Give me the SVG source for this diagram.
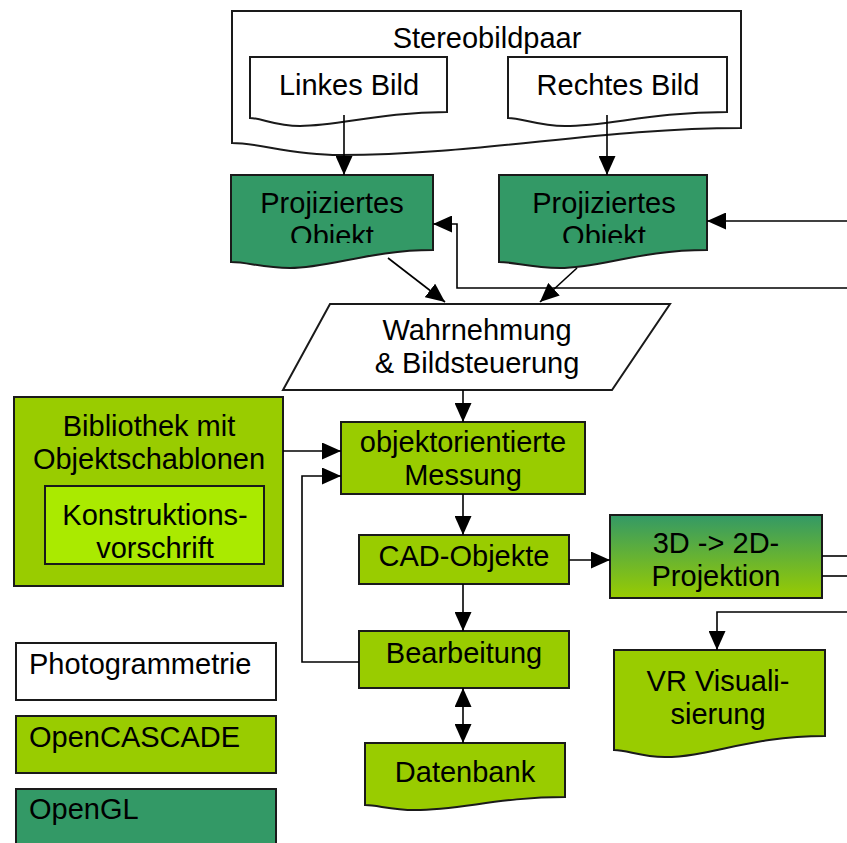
<svg xmlns="http://www.w3.org/2000/svg" width="847" height="843" viewBox="0 0 847 843">
<style>
.t{font-family:"Liberation Sans",Arial,sans-serif;font-size:29px;fill:#000;text-anchor:middle}
.tl{font-family:"Liberation Sans",Arial,sans-serif;font-size:29px;fill:#000}
.box{stroke:#1a1a1a;stroke-width:2}
.w{fill:#fff}
.gl{fill:#339966}
.cc{fill:#99CC00}
.kv{fill:#AAEA00}
.c{fill:none;stroke:#000;stroke-width:1.6}
</style>
<defs>
<marker id="a" viewBox="0 0 19 17" refX="19" refY="8.5" markerWidth="19" markerHeight="17" markerUnits="userSpaceOnUse" orient="auto">
<path d="M0,0 L19,8.5 L0,17 Z" fill="#000"/>
</marker>
<linearGradient id="g3d" x1="0" y1="0" x2="0" y2="1">
<stop offset="0" stop-color="#339966"/>
<stop offset="1" stop-color="#99CC00"/>
</linearGradient>
<clipPath id="clipL"><rect x="231" y="175" width="202" height="68"/></clipPath>
<clipPath id="clipR"><rect x="499" y="175" width="208" height="68"/></clipPath>
</defs>

<g id="stereobildpaar">
<path class="box w" d="M232,11 H741 V128 C600,128 480,155 340,155 C290,155 260,143 232,143 Z"/>
<text class="t" x="487" y="48">Stereobildpaar</text>
</g>
<g id="linkes-bild">
<path class="box w" d="M250,57 H447 V112 C380,112 340,126 300,126 C275,126 262,118 250,118 Z"/>
<text class="t" x="349" y="95">Linkes Bild</text>
</g>
<g id="rechtes-bild">
<path class="box w" d="M508,57 H727 V112 C650,112 610,126 565,126 C538,126 522,118 508,118 Z"/>
<text class="t" x="618" y="95">Rechtes Bild</text>
</g>
<g id="projiziertes-links">
<path class="box gl" d="M231,175 H433 V250 C370,250 330,268 290,268 C262,268 248,262 231,262 Z"/>
<g clip-path="url(#clipL)">
<text class="t" x="332" y="213">Projiziertes</text>
<text class="t" x="332" y="246">Objekt</text>
</g>
</g>
<g id="projiziertes-rechts">
<path class="box gl" d="M499,175 H707 V250 C640,250 600,268 560,268 C530,268 515,262 499,262 Z"/>
<g clip-path="url(#clipR)">
<text class="t" x="604" y="213">Projiziertes</text>
<text class="t" x="604" y="246">Objekt</text>
</g>
</g>
<g id="wahrnehmung">
<path class="box w" d="M330,304 H670 L612,390 H283 Z"/>
<text class="t" x="477" y="340">Wahrnehmung</text>
<text class="t" x="477" y="373">&amp; Bildsteuerung</text>
</g>
<g id="bibliothek">
<rect class="box cc" x="14" y="397" width="269" height="189"/>
<text class="t" x="149" y="436">Bibliothek mit</text>
<text class="t" x="149" y="469">Objektschablonen</text>
</g>
<g id="konstruktionsvorschrift">
<rect class="box kv" x="45" y="486" width="219" height="78"/>
<text class="t" x="155" y="525">Konstruktions-</text>
<text class="t" x="155" y="558">vorschrift</text>
</g>
<g id="messung">
<rect class="box cc" x="341" y="422" width="244" height="72"/>
<text class="t" x="463" y="452">objektorientierte</text>
<text class="t" x="463" y="485">Messung</text>
</g>
<g id="cad-objekte">
<rect class="box cc" x="359" y="535" width="210" height="49"/>
<text class="t" x="464" y="566">CAD-Objekte</text>
</g>
<g id="projektion">
<rect class="box" fill="url(#g3d)" x="610" y="515" width="212" height="83"/>
<text class="t" x="716" y="553">3D -&gt; 2D-</text>
<text class="t" x="716" y="586">Projektion</text>
</g>
<g id="bearbeitung">
<rect class="box cc" x="359" y="631" width="210" height="57"/>
<text class="t" x="464" y="663">Bearbeitung</text>
</g>
<g id="datenbank">
<path class="box cc" d="M365,743 H565 V797 C500,797 460,810 415,810 C390,810 378,805 365,805 Z"/>
<text class="t" x="465" y="782">Datenbank</text>
</g>
<g id="vr-visualisierung">
<path class="box cc" d="M614,650 H825 V736 C750,736 710,757 665,757 C640,757 628,750 614,750 Z"/>
<text class="t" x="718" y="691">VR Visuali-</text>
<text class="t" x="718" y="724">sierung</text>
</g>
<g id="legende-photogrammetrie">
<rect class="box w" x="16" y="643" width="260" height="57"/>
<text class="tl" x="29" y="674">Photogrammetrie</text>
</g>
<g id="legende-opencascade">
<rect class="box cc" x="16" y="716" width="260" height="57"/>
<text class="tl" x="29" y="747">OpenCASCADE</text>
</g>
<g id="legende-opengl">
<rect class="box gl" x="16" y="789" width="260" height="60"/>
<text class="tl" x="29" y="819">OpenGL</text>
</g>

<g id="connectors">
<path class="c" d="M344,115 V175" marker-end="url(#a)"/>
<path class="c" d="M607,115 V175" marker-end="url(#a)"/>
<path class="c" d="M388,258 L445,302" marker-end="url(#a)"/>
<path class="c" d="M577,268 L540,302" marker-end="url(#a)"/>
<path class="c" d="M847,288 H457 V224 H433" marker-end="url(#a)"/>
<path class="c" d="M847,221 H707" marker-end="url(#a)"/>
<path class="c" d="M463,390 V422" marker-end="url(#a)"/>
<path class="c" d="M283,451 H341" marker-end="url(#a)"/>
<path class="c" d="M359,662 H302 V476 H341" marker-end="url(#a)"/>
<path class="c" d="M463,494 V535" marker-end="url(#a)"/>
<path class="c" d="M569,560 H610" marker-end="url(#a)"/>
<path class="c" d="M822,556 H847"/>
<path class="c" d="M822,576 H847"/>
<path class="c" d="M847,612 H717 V650" marker-end="url(#a)"/>
<path class="c" d="M463,584 V631" marker-end="url(#a)"/>
<path class="c" d="M463,715 V743" marker-end="url(#a)"/>
<path class="c" d="M463,715 V688" marker-end="url(#a)"/>
</g>
</svg>
